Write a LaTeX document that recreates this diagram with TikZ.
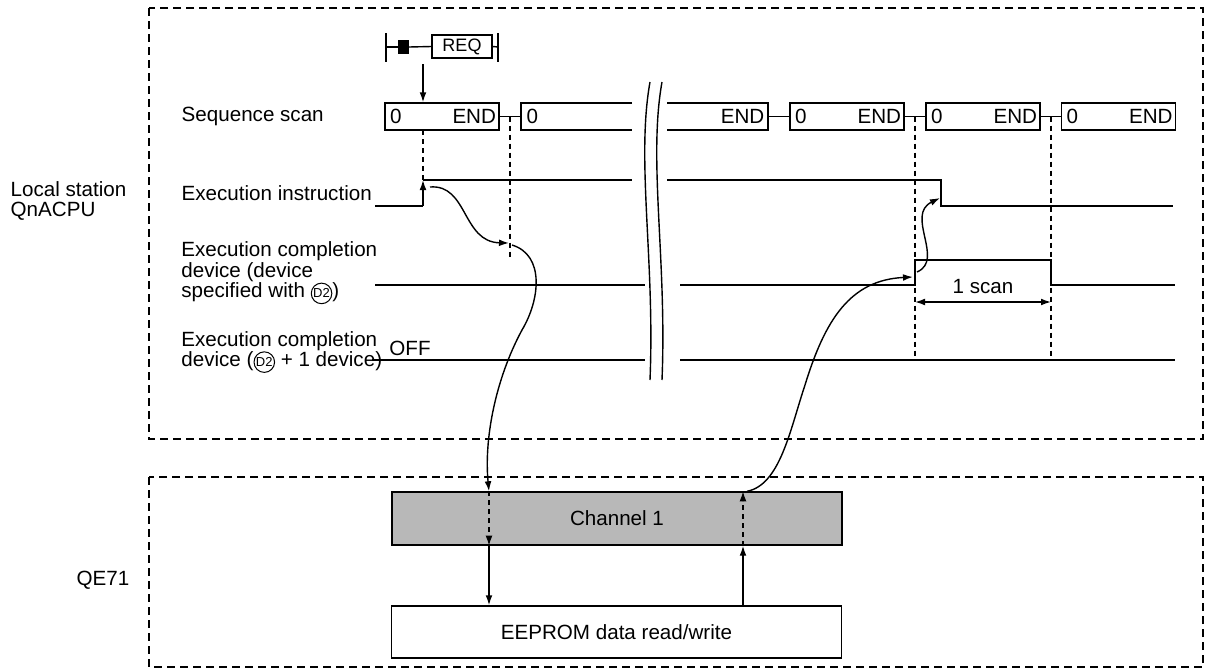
\documentclass[tikz,border=0pt]{standalone}
\usepackage{fontspec}
\setmainfont{Liberation Sans}
\usepackage{tikz}
\usetikzlibrary{calc, positioning, arrows.meta}

% D2 khoanh tron
\newcommand{\dtwo}{\tikz[baseline=(d.base)]\node[draw, circle, line width=0.5pt, inner sep=0.3pt, font=\fontsize{6.5}{6.5}\selectfont] (d) {D2};}

\begin{document}
\begin{tikzpicture}[>={Latex[length=5pt, width=3.4pt]}, x=0.5pt, y=-0.5pt, line width=0.7pt,
    font=\fontsize{10.3}{10.3}\selectfont,
    khung/.style={line width=0.8pt, dash pattern=on 4pt off 2.5pt},
    vach/.style={line width=0.6pt, dash pattern=on 2.5pt off 2pt},
    nhan/.style={anchor=west, align=left, inner sep=0pt},
    chu/.style={inner sep=0pt},
    oquet/.style={draw, minimum width=57pt, minimum height=13.5pt, inner sep=0pt},
    hop/.style={draw, minimum width=225pt, minimum height=26.5pt}]
    \useasboundingbox (0,0) rectangle (1207,670);

    % Khung net dut
    \draw[khung] (149,8) rectangle (1203,439);
    \draw[khung] (149,477) rectangle (1203,667);

    % Nhan ben trai
    \node[nhan] (lst) at (10,201) {Local station\\QnACPU};
    \node[chu] (qe) at (103,580) {QE71};
    \node[nhan] (lsc) at (181,116.5) {Sequence scan};
    \node[nhan] (lex) at (181,193) {Execution instruction};
    \node[nhan] (lcd) at (181,273) {Execution completion\\device (device\\specified with \dtwo)};
    \node[nhan] (lce) at (181,352) {Execution completion\\device (\dtwo{} + 1 device)};

    % Lenh REQ
    \draw (386,33) -- (386,62);
    \draw (498,33) -- (498,62);
    \node[draw, minimum width=30pt, minimum height=11.5pt, inner sep=0pt, font=\fontsize{9}{9}\selectfont] (req) at (462,46.5) {REQ};
    \fill (398,40) rectangle (409,54);
    \draw (386,47) -- (398,47);
    \draw (409,47) -- (req.west);
    \draw (req.east) -- (498,47);

    % Quet chuong trinh
    \node[oquet] (q1) at (442,116.5) {};
    \node[oquet] (q3) at (847,116.5) {};
    \node[oquet] (q4) at (983,116.5) {};
    \node[oquet] (q5) at (1118.5,116.5) {};
    \draw (632,103) -- (521,103) -- (521,130) -- (632,130);
    \draw (667,103) -- (768,103) -- (768,130) -- (667,130);
    \coordinate (q2) at (521,116.5);
    \coordinate (q2e) at (768,116.5);
    \foreach \q in {q1,q3,q4,q5} {
        \node[chu, anchor=west] at ($(\q.west)+(5,0)$) {0};
        \node[chu, anchor=east] at ($(\q.east)+(-3,0)$) {END};
    }
    \node[chu, anchor=west] at (526,116.5) {0};
    \node[chu, anchor=east] at (765,116.5) {END};
    \draw (q1.east) -- (q2);
    \draw (q2e) -- (q3.west);
    \draw (q3.east) -- (q4.west);
    \draw (q4.east) -- (q5.west);
    \coordinate (ra) at (423,64);
    \draw[->] (ra) -- (ra |- q1.north);

    % Dau ngat
    \draw (650,82) .. controls (636,160) and (655,260) .. (650,380);
    \draw (662,82) .. controls (648,160) and (667,260) .. (662,380);

    % Tin hieu
    \draw (375,206) -- (423,206);
    \draw[->] (423,206) -- (423,180);
    \draw (423,180) -- (632,180);
    \draw (667,180) -- (941,180) -- (941,206) -- (1173,206);
    \draw (375,285) -- (645,285);
    \draw (680,285) -- (915,285) -- (915,260) -- (1051,260) -- (1051,285) -- (1175,285);
    \draw (372,360) -- (645,360);
    \draw (680,360) -- (1175,360);
    \node[chu] (off) at (410,348) {OFF};

    % Duong dong
    \draw[vach] (423,130) -- (423,180);
    \draw[vach] (510,116.5) -- (510,260);
    \draw[vach] (915,116.5) -- (915,360);
    \draw[vach] (1051,116.5) -- (1051,360);
    \draw[<->] (915,302) -- (1051,302);
    \node[chu] (sc) at (983,287) {1 scan};

    % QE71
    \node[hop, fill=black!28] (ch) at (617,518.5) {Channel 1};
    \node[hop, minimum height=26pt] (ee) at (616.5,632) {EEPROM data read/write};
    \coordinate (xl) at (489,0);
    \coordinate (xr) at (743,0);
    \draw[vach, ->] (ch.north -| xl) -- (ch.south -| xl);
    \draw[->] (ch.south -| xl) -- (ee.north -| xl);
    \draw[->] (ee.north -| xr) -- (ch.south -| xr);
    \draw[vach, ->] (ch.south -| xr) -- (ch.north -| xr);

    % Mui ten cong
    \draw[->] (430,187) .. controls (468,184) and (462,242) .. (509,243);
    \draw[->] (512,245) .. controls (545,255) and (540,300) .. (522,330)
        .. controls (495,380) and (484,440) .. (ch.north -| xl);
    \draw[->] ($(ch.north -| xr)+(4,0)$) .. controls (780,485) and (790,430) .. (805,385)
        .. controls (825,320) and (850,280) .. (913,277);
    \draw[->] (917,272) .. controls (945,260) and (905,215) .. (940,198);
\end{tikzpicture}
\end{document}
